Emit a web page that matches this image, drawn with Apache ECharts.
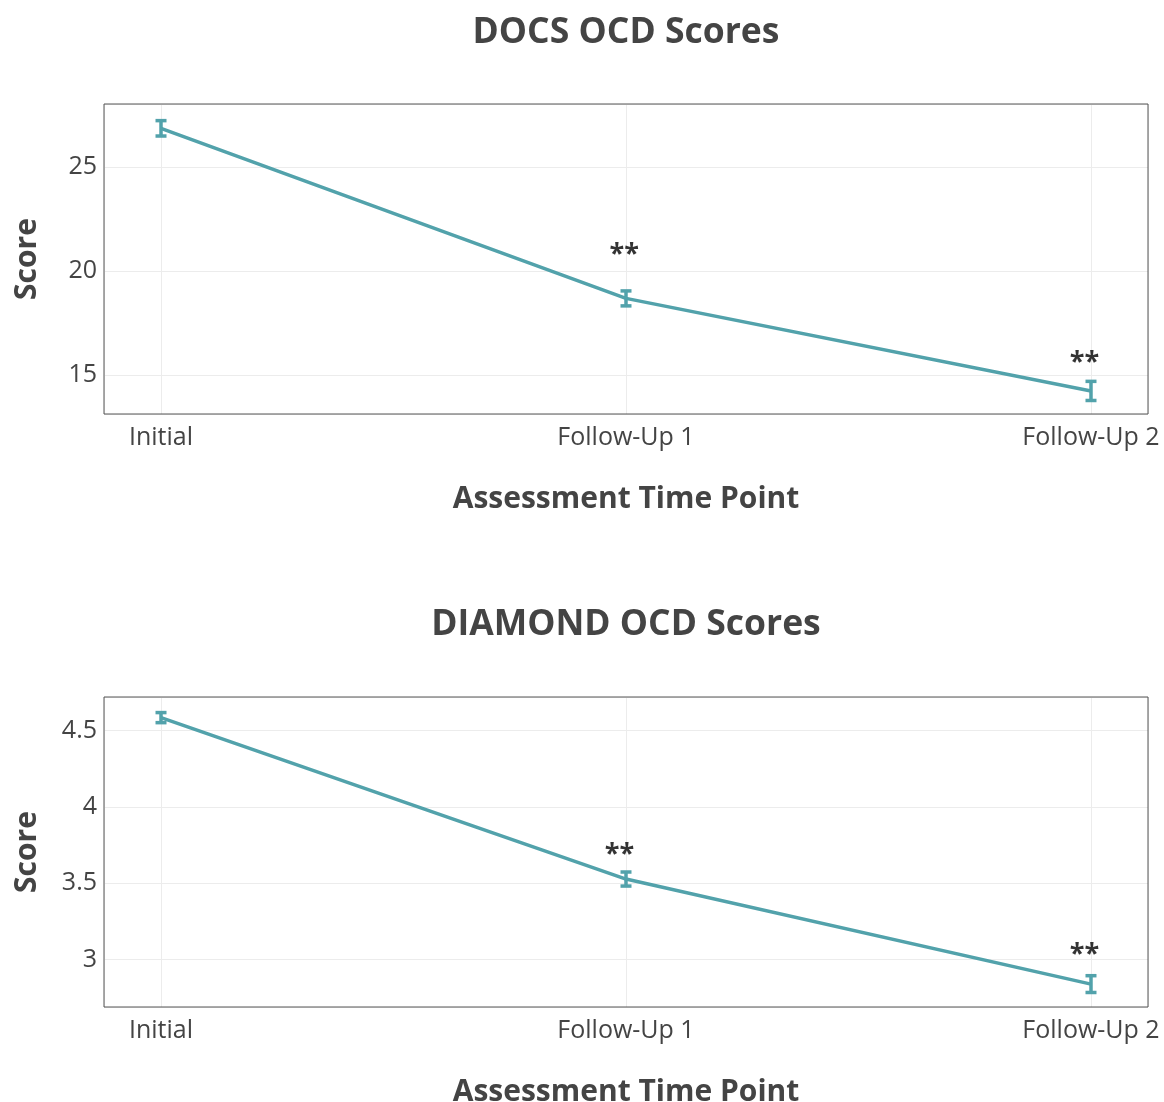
<!DOCTYPE html>
<html>
<head>
<meta charset="utf-8">
<script src="https://cdn.jsdelivr.net/npm/echarts@6/dist/echarts.min.js"></script>
<style>
html,body{margin:0;padding:0;background:#fff;}
#chart{width:1164px;height:1102px;}
</style>
</head>
<body>
<div id="chart"></div>
<script>
const categories = ['Initial', 'Follow-Up 1', 'Follow-Up 2'];
const docsMean = [26.86, 18.68, 14.23];
const docsErr = [0.37, 0.36, 0.46];
const docsStarX = [0.996, 1.986];
const docsStarY = [20.78, 15.6];
const diamondMean = [4.585, 3.528, 2.84];
const diamondErr = [0.033, 0.046, 0.055];
const diamondStarX = [0.986, 1.986];
const diamondStarY = [3.69, 3.035];
const docsYRange = [13.12, 28.03];
const diamondYRange = [2.69, 4.72];
const xRange = [-0.1226, 2.1226];
const titles = ['DOCS OCD Scores', 'DIAMOND OCD Scores'];

const FONT = '"Open Sans", "Noto Sans", sans-serif';
const TEXT = '#444444';
const LINE = '#52a2ab';

function pts(vals) { return vals.map((v, i) => [i, v]); }
function errData(mean, err) { return mean.map((m, i) => [i, m - err[i], m + err[i]]); }
function starData(xs, ys) { return xs.map((x, i) => [x, ys[i]]); }

function renderErr(params, api) {
  const x = api.value(0);
  const lo = api.coord([x, api.value(1)]);
  const hi = api.coord([x, api.value(2)]);
  const hw = 5.5;
  const style = { stroke: LINE, lineWidth: 3.5, fill: null };
  return {
    type: 'group',
    children: [
      { type: 'line', shape: { x1: lo[0], y1: lo[1], x2: hi[0], y2: hi[1] }, style },
      { type: 'line', shape: { x1: lo[0] - hw, y1: lo[1], x2: lo[0] + hw, y2: lo[1] }, style },
      { type: 'line', shape: { x1: hi[0] - hw, y1: hi[1], x2: hi[0] + hw, y2: hi[1] }, style }
    ]
  };
}

function xAxisCfg(idx) {
  return {
    type: 'value', gridIndex: idx, min: xRange[0], max: xRange[1], splitNumber: 2,
    name: 'Assessment Time Point', nameLocation: 'middle', nameGap: 70,
    nameTextStyle: { fontFamily: FONT, fontSize: 30, fontWeight: 'bold', color: TEXT },
    axisLine: { show: false }, axisTick: { show: false },
    axisLabel: {
      fontFamily: FONT, fontSize: 25, color: TEXT, margin: 11,
      showMinLabel: false, showMaxLabel: false,
      formatter: v => (Math.abs(v - Math.round(v)) < 1e-6 && categories[Math.round(v)]) ? categories[Math.round(v)] : ''
    },
    splitLine: { show: true, lineStyle: { color: '#ececec', width: 1 } }
  };
}
function yAxisCfg(idx, range, splitNumber) {
  return {
    type: 'value', gridIndex: idx, min: range[0], max: range[1], splitNumber: splitNumber,
    name: 'Score', nameLocation: 'middle', nameGap: 62, nameRotate: 90,
    nameTextStyle: { fontFamily: FONT, fontSize: 30, fontWeight: 'bold', color: TEXT },
    axisLine: { show: false }, axisTick: { show: false },
    axisLabel: { fontFamily: FONT, fontSize: 25, color: TEXT, margin: 7, showMinLabel: false, showMaxLabel: false },
    splitLine: { show: true, lineStyle: { color: '#ececec', width: 1 } }
  };
}

function seriesFor(idx, mean, err, sx, sy) {
  return [
    { type: 'line', xAxisIndex: idx, yAxisIndex: idx, data: pts(mean), symbol: 'none',
      lineStyle: { color: LINE, width: 3.5 }, z: 3 },
    { type: 'custom', xAxisIndex: idx, yAxisIndex: idx, data: errData(mean, err),
      renderItem: renderErr, z: 4 },
    { type: 'scatter', xAxisIndex: idx, yAxisIndex: idx, data: starData(sx, sy), symbolSize: 0,
      label: { show: true, position: 'inside', formatter: '**', fontFamily: FONT, fontSize: 27, fontWeight: 'bold', color: '#000' }, z: 5 }
  ];
}

const gridBase = { left: 104, width: 1044, height: 310, show: true, borderColor: '#555', borderWidth: 1,
  backgroundColor: 'transparent', z: 3, containLabel: false, outerBoundsMode: 'none' };

const chart = echarts.init(document.getElementById('chart'), null, { renderer: 'canvas' });
chart.setOption({
  animation: false,
  backgroundColor: '#fff',
  title: [
    { text: titles[0], left: 621, top: 10, textAlign: 'center',
      textStyle: { fontFamily: FONT, fontSize: 35.5, fontWeight: 'bold', color: TEXT } },
    { text: titles[1], left: 621, top: 602, textAlign: 'center',
      textStyle: { fontFamily: FONT, fontSize: 35.5, fontWeight: 'bold', color: TEXT } }
  ],
  grid: [
    Object.assign({ top: 104 }, gridBase),
    Object.assign({ top: 697 }, gridBase)
  ],
  xAxis: [xAxisCfg(0), xAxisCfg(1)],
  yAxis: [yAxisCfg(0, docsYRange, 3), yAxisCfg(1, diamondYRange, 4)],
  series: [].concat(seriesFor(0, docsMean, docsErr, docsStarX, docsStarY), seriesFor(1, diamondMean, diamondErr, diamondStarX, diamondStarY))
});
</script>
</body>
</html>
